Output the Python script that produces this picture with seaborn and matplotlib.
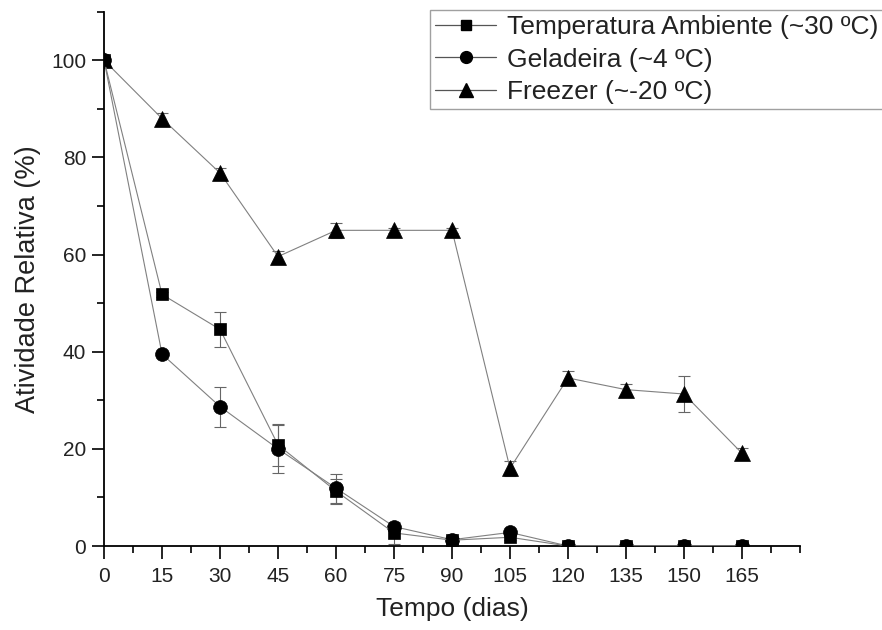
import numpy as np
import pandas as pd
import matplotlib
matplotlib.use("Agg")
import matplotlib.pyplot as plt
import seaborn as sns
from matplotlib.ticker import MultipleLocator
from matplotlib.lines import Line2D

# ---- data ----
dias = [0, 15, 30, 45, 60, 75, 90, 105, 120, 135, 150, 165]
serie_nomes = ["Temperatura Ambiente (~30 ºC)", "Geladeira (~4 ºC)", "Freezer (~-20 ºC)"]
ambiente = [100, 51.8, 44.6, 20.8, 11.3, 2.7, 1.2, 1.8, 0, 0, 0, 0]
ambiente_err = [0, 0.6, 3.6, 4.4, 2.6, 2.3, 0.5, 0.5, 0, 0, 0, 0]
geladeira = [100, 39.5, 28.7, 20.0, 11.9, 4.0, 1.3, 2.8, 0, 0, 0, 0]
geladeira_err = [0, 0.6, 4.1, 5.0, 3.0, 0.5, 0.5, 0.5, 0, 0, 0, 0]
freezer = [100, 88.0, 76.8, 59.6, 65.0, 65.0, 65.0, 16.0, 34.6, 32.2, 31.3, 19.1]
freezer_err = [0, 1.2, 1.0, 1.2, 1.5, 0.5, 0.5, 1.5, 1.5, 1.2, 3.8, 1.0]
x_ticks = [0, 15, 30, 45, 60, 75, 90, 105, 120, 135, 150, 165]
y_ticks = [0, 20, 40, 60, 80, 100]

valores = [ambiente, geladeira, freezer]
erros = [ambiente_err, geladeira_err, freezer_err]

df = pd.DataFrame({
    "Tempo": dias * 3,
    "Atividade": ambiente + geladeira + freezer,
    "Serie": sum([[n] * len(dias) for n in serie_nomes], []),
})

sns.set_style("ticks")
plt.rcParams["font.family"] = ["Liberation Sans", "DejaVu Sans"]

fig = plt.figure(figsize=(8.82, 6.3), dpi=100)
ax = fig.add_axes([0.118, 0.1333, 0.789, 0.848])

line_col = "#808080"
# error bars
for v, e in zip(valores, erros):
    ax.errorbar(dias, v, yerr=e, fmt="none", ecolor="#666666", elinewidth=0.8,
                capsize=4, capthick=0.8, zorder=2)

markers = {serie_nomes[0]: "s", serie_nomes[1]: "o", serie_nomes[2]: "^"}
sizes = {serie_nomes[0]: 8.5, serie_nomes[1]: 10, serie_nomes[2]: 12}
for nome in serie_nomes[::-1]:
    sub = df[df["Serie"] == nome]
    sns.lineplot(data=sub, x="Tempo", y="Atividade", ax=ax, color=line_col,
                 linewidth=0.8, marker=markers[nome], markersize=sizes[nome],
                 markerfacecolor="black", markeredgecolor="black",
                 markeredgewidth=0.5, label=nome, zorder=3, legend=False)

ax.set_xlim(0, 180)
ax.set_ylim(0, 110)
ax.set_xticks(x_ticks)
ax.set_yticks(y_ticks)
ax.xaxis.set_minor_locator(MultipleLocator(7.5))
ax.yaxis.set_minor_locator(MultipleLocator(10))
ax.tick_params(axis="both", which="major", direction="out", length=9, width=1.2,
               labelsize=15, color="black", labelcolor="#222222")
ax.tick_params(axis="both", which="minor", direction="out", length=5, width=1.2,
               color="black")
ax.tick_params(axis="x", pad=6)
ax.tick_params(axis="y", pad=4)
for s in ["top", "right"]:
    ax.spines[s].set_visible(False)
for s in ["left", "bottom"]:
    ax.spines[s].set_linewidth(1.3)
    ax.spines[s].set_color("black")

ax.set_xlabel("Tempo (dias)", fontsize=19, color="#222222", labelpad=8)
ax.set_ylabel("Atividade Relativa (%)", fontsize=19.5, color="#222222", labelpad=7)

handles = [Line2D([0], [0], color="#555555", linewidth=0.9, marker=markers[n],
                  markersize=sizes[n] - 1.5, markerfacecolor="black",
                  markeredgecolor="black") for n in serie_nomes]
leg = fig.legend(handles, serie_nomes, loc="upper left",
                 bbox_to_anchor=(430 / 882, 1 - 10 / 630), frameon=True,
                 fancybox=False, fontsize=19, handlelength=2.3,
                 handletextpad=0.4, labelspacing=0.32, borderpad=0.2,
                 borderaxespad=0)
leg.get_frame().set_edgecolor("#888888")
leg.get_frame().set_linewidth(1.0)
for t in leg.get_texts():
    t.set_color("#222222")

fig.savefig("out.png", dpi=100)
